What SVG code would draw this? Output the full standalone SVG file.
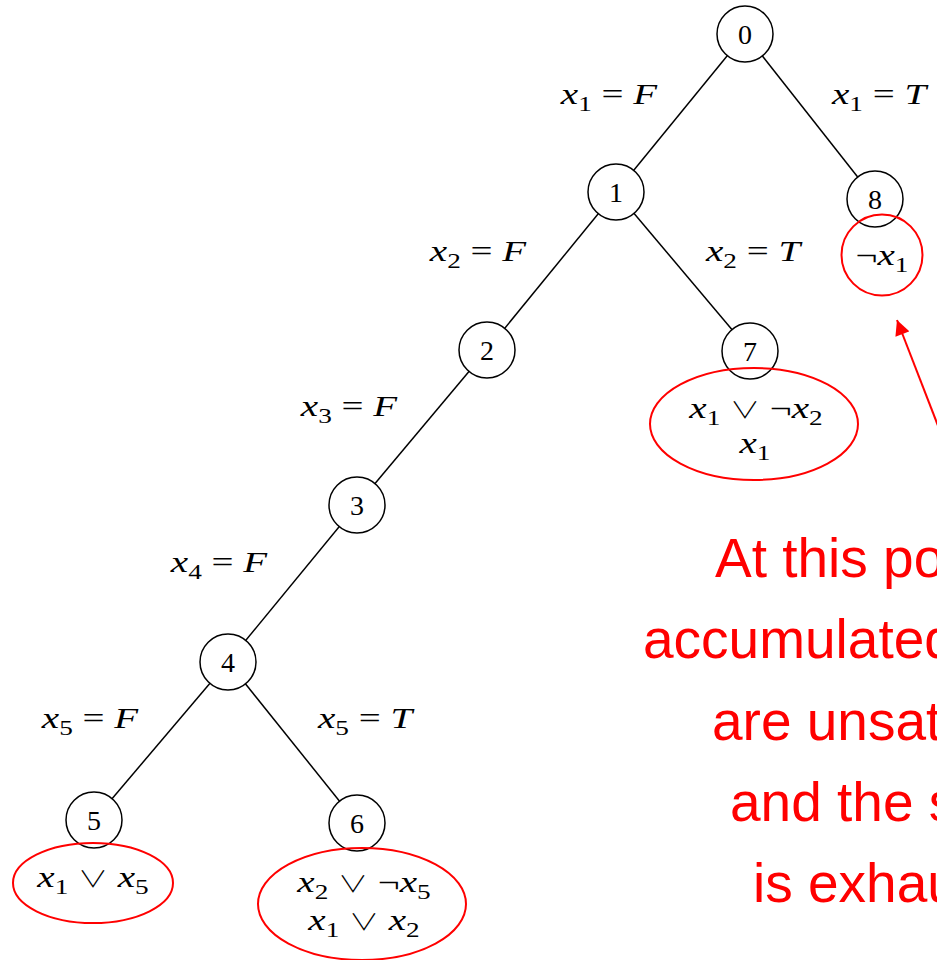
<svg xmlns="http://www.w3.org/2000/svg" width="937" height="960" viewBox="0 0 937 960">
<style>
.edge{stroke:#000;stroke-width:1.5;fill:none}
.node{fill:#fff;stroke:#000;stroke-width:1.5}
.num{font-family:"Liberation Serif","DejaVu Serif",serif;font-size:28px;text-anchor:middle;fill:#000}
.m{font-family:"Liberation Serif","DejaVu Serif",serif;font-size:30px;text-anchor:middle;fill:#000}
.i{font-style:italic}
.s{font-size:21px}
.op{font-family:"Noto Sans CJK JP","DejaVu Sans",sans-serif;font-weight:300;font-size:23px}
.hl{fill:none;stroke:#f00;stroke-width:2}
.note{font-family:"Liberation Sans",Arial,sans-serif;font-size:55px;fill:#f00}
</style>
<defs>
<marker id="ah" viewBox="0 0 10 10" refX="10" refY="5" markerWidth="17" markerHeight="15" markerUnits="userSpaceOnUse" orient="auto">
<path d="M0,0 L10,5 L0,10 z" fill="#f00"/>
</marker>
</defs>
<rect width="937" height="960" fill="#fff"/>
<g id="connectors">
<line class="edge" x1="745" y1="34" x2="616" y2="192"/>
<line class="edge" x1="745" y1="34" x2="875" y2="199"/>
<line class="edge" x1="616" y1="192" x2="487" y2="350"/>
<line class="edge" x1="616" y1="192" x2="750" y2="351"/>
<line class="edge" x1="487" y1="350" x2="357" y2="505"/>
<line class="edge" x1="357" y1="505" x2="228" y2="662"/>
<line class="edge" x1="228" y1="662" x2="94" y2="820"/>
<line class="edge" x1="228" y1="662" x2="357" y2="823"/>
<line x1="942" y1="436" x2="897" y2="320" stroke="#f00" stroke-width="2" marker-end="url(#ah)"/>
</g>
<g id="edge-labels">
<text class="m" transform="translate(609,104) scale(1.3,1)"><tspan class="i">x</tspan><tspan class="s" dy="7">1</tspan><tspan dy="-7"> = </tspan><tspan class="i">F</tspan></text>
<text class="m" transform="translate(879,104) scale(1.3,1)"><tspan class="i">x</tspan><tspan class="s" dy="7">1</tspan><tspan dy="-7"> = </tspan><tspan class="i">T</tspan></text>
<text class="m" transform="translate(478,261) scale(1.3,1)"><tspan class="i">x</tspan><tspan class="s" dy="7">2</tspan><tspan dy="-7"> = </tspan><tspan class="i">F</tspan></text>
<text class="m" transform="translate(753,261) scale(1.3,1)"><tspan class="i">x</tspan><tspan class="s" dy="7">2</tspan><tspan dy="-7"> = </tspan><tspan class="i">T</tspan></text>
<text class="m" transform="translate(349,416) scale(1.3,1)"><tspan class="i">x</tspan><tspan class="s" dy="7">3</tspan><tspan dy="-7"> = </tspan><tspan class="i">F</tspan></text>
<text class="m" transform="translate(219,572) scale(1.3,1)"><tspan class="i">x</tspan><tspan class="s" dy="7">4</tspan><tspan dy="-7"> = </tspan><tspan class="i">F</tspan></text>
<text class="m" transform="translate(90,728) scale(1.3,1)"><tspan class="i">x</tspan><tspan class="s" dy="7">5</tspan><tspan dy="-7"> = </tspan><tspan class="i">F</tspan></text>
<text class="m" transform="translate(365,728) scale(1.3,1)"><tspan class="i">x</tspan><tspan class="s" dy="7">5</tspan><tspan dy="-7"> = </tspan><tspan class="i">T</tspan></text>
</g>
<g id="n0"><circle class="node" cx="745" cy="34" r="28"/><text class="num" x="745" y="44">0</text></g>
<g id="n1"><circle class="node" cx="616" cy="192" r="28"/><text class="num" x="616" y="202">1</text></g>
<g id="n8"><circle class="node" cx="875" cy="199" r="28"/><text class="num" x="875" y="209">8</text></g>
<g id="n2"><circle class="node" cx="487" cy="350" r="28"/><text class="num" x="487" y="360">2</text></g>
<g id="n7"><circle class="node" cx="750" cy="351" r="28"/><text class="num" x="750" y="361">7</text></g>
<g id="n3"><circle class="node" cx="357" cy="505" r="28"/><text class="num" x="357" y="515">3</text></g>
<g id="n4"><circle class="node" cx="228" cy="662" r="28"/><text class="num" x="228" y="672">4</text></g>
<g id="n5"><circle class="node" cx="94" cy="820" r="28"/><text class="num" x="94" y="830">5</text></g>
<g id="n6"><circle class="node" cx="357" cy="823" r="28"/><text class="num" x="357" y="833">6</text></g>
<g id="c8">
<circle class="hl" cx="882" cy="255" r="40.5"/>
<text class="m" transform="translate(882,265) scale(1.3,1)">¬<tspan class="i">x</tspan><tspan class="s" dy="7">1</tspan></text>
</g>
<g id="c7">
<ellipse class="hl" cx="754" cy="424" rx="104" ry="56"/>
<text class="m" transform="translate(756,418) scale(1.3,1)"><tspan class="i">x</tspan><tspan class="s" dy="7">1</tspan><tspan dy="-7"> </tspan><tspan class="op">∨</tspan><tspan> ¬</tspan><tspan class="i">x</tspan><tspan class="s" dy="7">2</tspan></text>
<text class="m" transform="translate(755,453) scale(1.3,1)"><tspan class="i">x</tspan><tspan class="s" dy="7">1</tspan></text>
</g>
<g id="c5">
<ellipse class="hl" cx="93" cy="883" rx="80" ry="40"/>
<text class="m" transform="translate(93,887) scale(1.3,1)"><tspan class="i">x</tspan><tspan class="s" dy="7">1</tspan><tspan dy="-7"> </tspan><tspan class="op">∨</tspan><tspan> </tspan><tspan class="i">x</tspan><tspan class="s" dy="7">5</tspan></text>
</g>
<g id="c6">
<ellipse class="hl" cx="362" cy="904" rx="104" ry="56"/>
<text class="m" transform="translate(364,892) scale(1.3,1)"><tspan class="i">x</tspan><tspan class="s" dy="7">2</tspan><tspan dy="-7"> </tspan><tspan class="op">∨</tspan><tspan> ¬</tspan><tspan class="i">x</tspan><tspan class="s" dy="7">5</tspan></text>
<text class="m" transform="translate(364,930) scale(1.3,1)"><tspan class="i">x</tspan><tspan class="s" dy="7">1</tspan><tspan dy="-7"> </tspan><tspan class="op">∨</tspan><tspan> </tspan><tspan class="i">x</tspan><tspan class="s" dy="7">2</tspan></text>
</g>
<g id="note">
<text class="note" x="715" y="577">At this po</text>
<text class="note" x="643" y="658">accumulated</text>
<text class="note" x="712" y="740">are unsat</text>
<text class="note" x="730" y="821">and the s</text>
<text class="note" x="753" y="902">is exhau</text>
</g>
</svg>
